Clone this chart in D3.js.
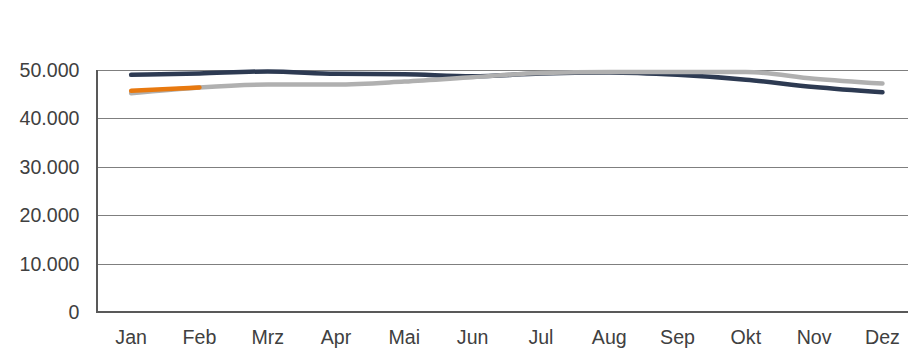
<!DOCTYPE html>
<html>
<head>
<meta charset="utf-8">
<script src="https://cdn.jsdelivr.net/npm/d3@7"></script>
<style>
  body { margin: 0; background: #fff; }
  svg text { font-family: "Liberation Sans", Arial, sans-serif; fill: #404040; }
</style>
</head>
<body>
<div id="chart"></div>
<script>
// ===== DATA =====
const months = ['Jan', 'Feb', 'Mrz', 'Apr', 'Mai', 'Jun', 'Jul', 'Aug', 'Sep', 'Okt', 'Nov', 'Dez'];
const seriesDark = [49000, 49300, 49700, 49200, 49100, 48700, 49300, 49500, 49000, 48000, 46500, 45400];
const seriesGray = [45200, 46400, 47000, 47000, 47600, 48500, 49400, 49600, 49600, 49600, 48200, 47200];
const seriesOrange = [45700, 46400];
const yTicks = [0, 10000, 20000, 30000, 40000, 50000];

const width = 908, height = 351;
const margin = { left: 97, top: 70, bottom: 39 };

const svg = d3.select('#chart')
  .append('svg')
  .attr('width', width)
  .attr('height', height);

// band is wider than the window, the chart gets clipped on the right like the original
const x = d3.scaleBand()
  .domain(months)
  .range([margin.left, margin.left + 12 * 68.3]);

const y = d3.scaleLinear()
  .domain([0, 50000])
  .range([height - margin.bottom, margin.top]);

const fmt = d => d3.format(',')(d).replace(/,/g, '.');

// gridlines
svg.append('g')
  .selectAll('line')
  .data(yTicks.filter(d => d > 0))
  .join('line')
  .attr('x1', margin.left)
  .attr('x2', width)
  .attr('y1', d => Math.round(y(d)) + 0.5)
  .attr('y2', d => Math.round(y(d)) + 0.5)
  .attr('stroke', '#7f7f7f')
  .attr('stroke-width', 1);

// y labels
svg.append('g')
  .selectAll('text')
  .data(yTicks)
  .join('text')
  .attr('x', 79.5)
  .attr('y', d => y(d))
  .attr('dy', '0.36em')
  .attr('text-anchor', 'end')
  .style('font-size', '19.6px')
  .text(d => fmt(d));

// x labels
svg.append('g')
  .selectAll('text')
  .data(months)
  .join('text')
  .attr('x', d => x(d) + x.bandwidth() / 2)
  .attr('y', 344)
  .attr('text-anchor', 'middle')
  .style('font-size', '19.6px')
  .text(d => d);

// axes lines
const y0 = Math.round(y(0));
svg.append('line')
  .attr('x1', margin.left).attr('x2', width)
  .attr('y1', y0).attr('y2', y0)
  .attr('stroke', '#595959').attr('stroke-width', 2);
svg.append('line')
  .attr('x1', margin.left).attr('x2', margin.left)
  .attr('y1', Math.round(y(50000))).attr('y2', y0 + 1)
  .attr('stroke', '#595959').attr('stroke-width', 2);

// lines
const line = d3.line()
  .x((d, i) => x(months[i]) + x.bandwidth() / 2)
  .y(d => y(d))
  .curve(d3.curveMonotoneX);

const series = [
  { values: seriesDark, color: '#2d3a52' },
  { values: seriesGray, color: '#b0b0b0' },
  { values: seriesOrange, color: '#e8790f' }
];

svg.append('g')
  .selectAll('path')
  .data(series)
  .join('path')
  .attr('d', d => line(d.values))
  .attr('fill', 'none')
  .attr('stroke', d => d.color)
  .attr('stroke-width', 4.5)
  .attr('stroke-linecap', 'round')
  .attr('stroke-linejoin', 'round');
</script>
</body>
</html>
